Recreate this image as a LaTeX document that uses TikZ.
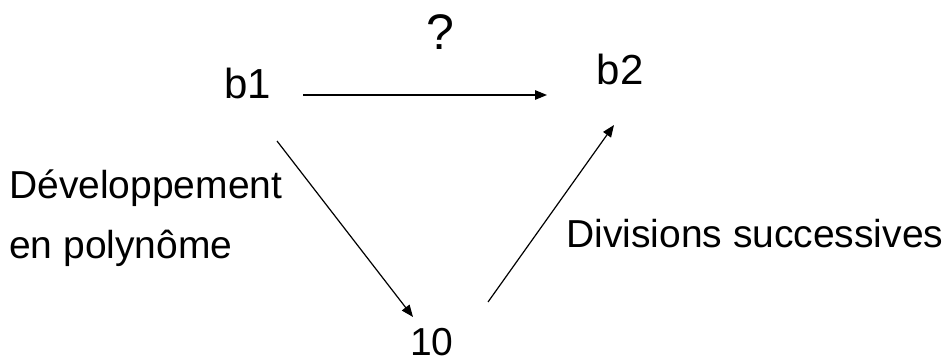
\documentclass[tikz,border=0pt]{standalone}
\usepackage{fontspec}
\setmainfont{Liberation Sans}
\usetikzlibrary{arrows.meta}
\begin{document}
\begin{tikzpicture}[x=1pt,y=1pt,
  lbl/.style={inner sep=0pt,font=\fontsize{39}{46}\selectfont},
  big/.style={inner sep=0pt,font=\fontsize{42}{48}\selectfont},
  arr/.style={line width=1.2pt,-{Triangle[length=12pt,width=9.5pt]}}]
\useasboundingbox (0,0) rectangle (945,362);
\node[big,anchor=base] (b1) at (248,263) {b1};
\node[big,anchor=base] (b2) at (620,277) {b2};
\node[lbl,anchor=base] (ten) at (432,7) {10};
\node[inner sep=0pt,anchor=base,font=\fontsize{50}{56}\selectfont] (q) at (440,312) {?};
\node[lbl,anchor=base west] (dev1) at (9,164) {Développement};
\node[lbl,anchor=base west] (dev2) at (9,104) {en polynôme};
\node[lbl,anchor=base west] (div) at (566,115) {Divisions successives};
\draw[arr] ([xshift=55pt,yshift=4pt]b1.base) -- ([xshift=-73pt,yshift=-10pt]b2.base);
\draw[arr] ([xshift=29pt,yshift=-42pt]b1.base) -- ([xshift=-19pt,yshift=38pt]ten.base);
\draw[arr] ([xshift=56pt,yshift=53pt]ten.base) -- ([xshift=-6pt,yshift=-40pt]b2.base);
\end{tikzpicture}
\end{document}
